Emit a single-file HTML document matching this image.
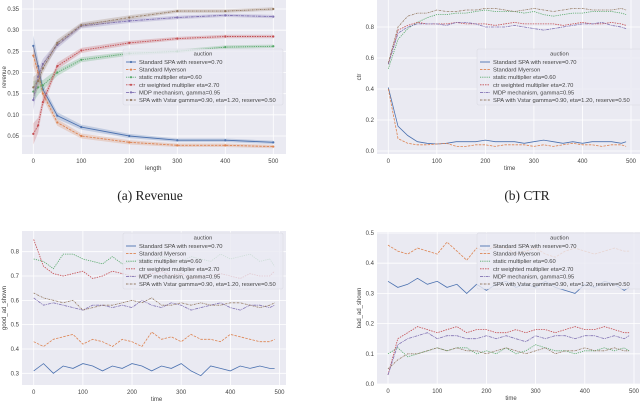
<!DOCTYPE html>
<html><head><meta charset="utf-8"><style>
html,body{margin:0;padding:0;background:#fff;width:640px;height:401px;overflow:hidden}
svg{display:block}
text{font-family:"Liberation Sans",sans-serif}
</style></head><body>
<svg id="fig" width="640" height="401" viewBox="0 0 640 401" xmlns="http://www.w3.org/2000/svg"></svg>
<script>
const COLORS=["#4c72b0","#dd8452","#55a868","#c44e52","#8172b3","#937860"];
const LABELS=["Standard SPA with reserve=0.70","Standard Myerson","static multiplier eta=0.60","ctr weighted multiplier eta=2.70","MDP mechanism, gamma=0.95","SPA with Vstar gamma=0.90, eta=1.20, reserve=0.50"];
const DASHES=["","2.5,1.2","1.2,1","1.5,1","3,0.8,1,0.8","1.8,0.8,0.6,0.8"];

const revLength=[0,10,20,50,100,200,300,400,500];
const revBlue=[0.263,0.215,0.16,0.098,0.071,0.05,0.04,0.04,0.035];
const revOrange=[0.24,0.20,0.15,0.082,0.05,0.035,0.028,0.028,0.025];
const revGreen=[0.155,0.165,0.17,0.20,0.23,0.245,0.25,0.26,0.262];
const revRed=[0.055,0.075,0.13,0.215,0.252,0.27,0.28,0.285,0.285];
const revPurple=[0.135,0.19,0.22,0.265,0.31,0.322,0.33,0.335,0.332];
const revBrown=[0.165,0.18,0.21,0.27,0.312,0.33,0.345,0.345,0.35];
const revTicksY=[0.05,0.10,0.15,0.20,0.25,0.30,0.35];

const times=[0,20,40,60,80,100,120,140,160,180,200,220,240,260,280,300,320,340,360,380,400,420,440,460,480,490];
const ctrBlue=[0.41,0.16,0.10,0.06,0.05,0.045,0.05,0.06,0.06,0.06,0.07,0.06,0.06,0.06,0.05,0.06,0.07,0.06,0.05,0.06,0.05,0.06,0.06,0.06,0.05,0.06];
const ctrOrange=[0.40,0.08,0.05,0.04,0.04,0.045,0.05,0.03,0.03,0.04,0.04,0.03,0.04,0.04,0.04,0.03,0.04,0.03,0.04,0.05,0.04,0.04,0.03,0.04,0.04,0.03];
const ctrGreen=[0.53,0.72,0.79,0.83,0.86,0.88,0.88,0.89,0.89,0.90,0.91,0.90,0.90,0.90,0.89,0.90,0.88,0.87,0.88,0.89,0.89,0.90,0.90,0.90,0.89,0.88];
const ctrRed=[0.56,0.78,0.81,0.83,0.82,0.82,0.82,0.83,0.82,0.82,0.82,0.81,0.82,0.83,0.82,0.82,0.82,0.82,0.81,0.82,0.83,0.82,0.82,0.83,0.82,0.81];
const ctrPurple=[0.56,0.76,0.80,0.82,0.82,0.82,0.81,0.83,0.83,0.82,0.80,0.80,0.80,0.81,0.80,0.79,0.78,0.79,0.80,0.81,0.82,0.82,0.83,0.81,0.80,0.79];
const ctrBrown=[0.57,0.80,0.87,0.89,0.89,0.91,0.90,0.90,0.91,0.91,0.92,0.92,0.91,0.90,0.91,0.92,0.91,0.90,0.91,0.92,0.92,0.91,0.91,0.91,0.92,0.91];
const ctrTicksY=[0.0,0.2,0.4,0.6,0.8];

const goodBlue=[0.31,0.34,0.30,0.33,0.32,0.34,0.33,0.31,0.33,0.32,0.34,0.33,0.31,0.33,0.32,0.34,0.31,0.29,0.33,0.32,0.31,0.33,0.32,0.33,0.32,0.32];
const goodOrange=[0.43,0.41,0.44,0.45,0.46,0.42,0.44,0.43,0.41,0.44,0.43,0.41,0.47,0.44,0.45,0.43,0.46,0.44,0.44,0.43,0.46,0.45,0.44,0.43,0.43,0.44];
const goodGreen=[0.77,0.76,0.73,0.79,0.79,0.77,0.76,0.75,0.78,0.75,0.76,0.77,0.76,0.78,0.77,0.76,0.78,0.77,0.76,0.79,0.77,0.78,0.79,0.76,0.77,0.74];
const goodRed=[0.85,0.74,0.71,0.70,0.71,0.72,0.69,0.70,0.72,0.71,0.70,0.70,0.71,0.72,0.70,0.71,0.69,0.70,0.70,0.71,0.70,0.69,0.71,0.70,0.70,0.72];
const goodPurple=[0.61,0.58,0.59,0.58,0.57,0.56,0.58,0.58,0.57,0.58,0.57,0.60,0.58,0.57,0.59,0.58,0.56,0.57,0.58,0.59,0.57,0.56,0.58,0.58,0.57,0.58];
const goodBrown=[0.63,0.61,0.60,0.59,0.60,0.56,0.57,0.58,0.58,0.59,0.60,0.59,0.61,0.58,0.58,0.59,0.58,0.59,0.58,0.58,0.59,0.59,0.58,0.57,0.58,0.59];
const goodTicksY=[0.3,0.4,0.5,0.6,0.7,0.8];

const badBlue=[0.34,0.32,0.33,0.35,0.33,0.34,0.32,0.33,0.30,0.33,0.31,0.33,0.34,0.32,0.33,0.32,0.34,0.32,0.31,0.30,0.33,0.32,0.34,0.33,0.31,0.32];
const badOrange=[0.46,0.44,0.43,0.45,0.44,0.43,0.47,0.44,0.41,0.45,0.44,0.46,0.45,0.43,0.44,0.45,0.43,0.42,0.44,0.45,0.44,0.43,0.44,0.45,0.44,0.44];
const badGreen=[0.10,0.12,0.09,0.10,0.11,0.12,0.11,0.12,0.12,0.10,0.11,0.10,0.12,0.10,0.11,0.13,0.12,0.11,0.11,0.10,0.11,0.11,0.12,0.11,0.12,0.11];
const badRed=[0.03,0.15,0.17,0.19,0.18,0.17,0.18,0.19,0.17,0.18,0.18,0.17,0.17,0.18,0.17,0.18,0.18,0.17,0.18,0.19,0.18,0.18,0.19,0.18,0.17,0.17];
const badPurple=[0.03,0.13,0.15,0.16,0.17,0.15,0.16,0.16,0.15,0.15,0.16,0.15,0.16,0.15,0.14,0.16,0.15,0.16,0.16,0.15,0.16,0.16,0.15,0.16,0.15,0.16];
const badBrown=[0.05,0.08,0.10,0.10,0.11,0.12,0.11,0.12,0.11,0.11,0.10,0.11,0.12,0.11,0.10,0.11,0.12,0.10,0.11,0.11,0.12,0.11,0.11,0.12,0.11,0.11];
const badTicksY=[0.0,0.1,0.2,0.3,0.4,0.5];
const xTicks=[0,100,200,300,400,500];

const NS="http://www.w3.org/2000/svg";
const svg=document.getElementById('fig');
function mk(tag,attrs,parent){const e=document.createElementNS(NS,tag);for(const k in attrs)e.setAttribute(k,attrs[k]);(parent||svg).appendChild(e);return e;}

function panel(cfg){
  const g=mk('g',{});
  
  
  const sx=v=>cfg.x0+(v-cfg.xd0)/(cfg.xd1-cfg.xd0)*(cfg.x1d-cfg.x0);
  const sy=v=>cfg.y0+(cfg.yd0-v)/(cfg.yd0-cfg.yd1)*(cfg.y1d-cfg.y0);
  const bg=mk('rect',{x:cfg.L,y:cfg.T,width:cfg.R-cfg.L,height:cfg.B-cfg.T,fill:'#eaeaf2'},g);
  
  
  xTicks.forEach(t=>{const x=sx(t);
    mk('line',{x1:x,x2:x,y1:cfg.T,y2:cfg.B,stroke:'#fff','stroke-width':0.8},g);
    const tx=mk('text',{x:x,y:cfg.B+9,'font-size':6,fill:'#444','text-anchor':'middle'},g);tx.textContent=t;
    
    
  });
  cfg.ticksY.forEach(t=>{const y=sy(t);
    mk('line',{x1:cfg.L,x2:cfg.R,y1:y,y2:y,stroke:'#fff','stroke-width':0.8},g);
    const tx=mk('text',{x:cfg.L-3,y:y+2,'font-size':6,fill:'#444','text-anchor':'end'},g);tx.textContent=t.toFixed(cfg.dec);
    
    
  });
  const xl=mk('text',{x:(sx(0)+sx(500))/2,y:cfg.B+16,'font-size':6,fill:'#444','text-anchor':'middle'},g);xl.textContent=cfg.xlabel;
  
  
  const yl=mk('text',{x:0,y:0,'font-size':6,fill:'#444','text-anchor':'middle',transform:`translate(${cfg.L-16},${(cfg.T+cfg.B)/2}) rotate(-90)`},g);yl.textContent=cfg.ylabel;
  
  
  cfg.series.forEach((s,i)=>{
    const pts=s.map((v,j)=>sx(cfg.xs[j]).toFixed(1)+','+sy(v).toFixed(1));
    if(cfg.band){
      const up=s.map((v,j)=>sx(cfg.xs[j]).toFixed(1)+','+sy(v+cfg.band[j]).toFixed(1));
      const dn=s.map((v,j)=>sx(cfg.xs[j]).toFixed(1)+','+sy(v-cfg.band[j]).toFixed(1)).reverse();
      const b=mk('polygon',{points:up.concat(dn).join(' '),fill:COLORS[i],opacity:0.25},g);
      
      
    }
    const l=mk('polyline',{points:pts.join(' '),fill:'none',stroke:COLORS[i],'stroke-width':cfg.band?0.9:0.8,'stroke-dasharray':DASHES[i]},g);
    
    
    if(cfg.band){s.forEach((v,j)=>{const m=mk('circle',{cx:sx(cfg.xs[j]),cy:sy(v),r:1.1,fill:COLORS[i]},g);
      
      });}
  });
  const lg=mk('g',{},g);
  
  
  mk('rect',{x:cfg.lx,y:cfg.ly,width:cfg.lw,height:56,fill:'#eaeaf2','fill-opacity':0.8,stroke:'#d8d8e0','stroke-width':0.5,rx:1.5},lg);
  const lt=mk('text',{x:cfg.lx+cfg.lw/2,y:cfg.ly+6.5,'font-size':5.8,fill:'#444','text-anchor':'middle'},lg);lt.textContent='auction';
  LABELS.forEach((lab,i)=>{const y=cfg.ly+13+i*7.6;
    mk('line',{x1:cfg.lx+3,x2:cfg.lx+13,y1:y,y2:y,stroke:COLORS[i],'stroke-width':0.9,'stroke-dasharray':DASHES[i]},lg);
    if(cfg.band)mk('circle',{cx:cfg.lx+8,cy:y,r:1.1,fill:COLORS[i]},lg);
    const t=mk('text',{x:cfg.lx+16,y:y+2,'font-size':5.8,fill:'#444'},lg);t.textContent=lab;
    
    
  });
}

panel({name:'revenue-chart',L:22,R:286,T:0,B:154,x0:33.3,x1d:273.3,xd0:0,xd1:500,y0:9,y1d:136,yd0:0.35,yd1:0.05,
  ticksY:revTicksY,dec:2,xlabel:'length',ylabel:'revenue',xs:revLength,
  series:[revBlue,revOrange,revGreen,revRed,revPurple,revBrown],band:[0.025,0.018,0.012,0.008,0.006,0.005,0.004,0.004,0.004],
  lx:123,ly:49,lw:160});
panel({name:'ctr-chart',L:377,R:640,T:0,B:154,x0:388.3,x1d:631,xd0:0,xd1:500,y0:27,y1d:151,yd0:0.8,yd1:0.0,
  ticksY:ctrTicksY,dec:1,xlabel:'time',ylabel:'ctr',xs:times,
  series:[ctrBlue,ctrOrange,ctrGreen,ctrRed,ctrPurple,ctrBrown],lx:477,ly:49,lw:165});
panel({name:'good-ad-shown-chart',L:22,R:286,T:231,B:385,x0:33.7,x1d:279.5,xd0:0,xd1:500,y0:251.7,y1d:373.3,yd0:0.8,yd1:0.3,
  ticksY:goodTicksY,dec:1,xlabel:'time',ylabel:'good_ad_shown',xs:times,
  series:[goodBlue,goodOrange,goodGreen,goodRed,goodPurple,goodBrown],lx:123,ly:233,lw:160});
panel({name:'bad-ad-shown-chart',L:377,R:640,T:232,B:384,x0:388,x1d:634,xd0:0,xd1:500,y0:233,y1d:384,yd0:0.5,yd1:0.0,
  ticksY:badTicksY,dec:1,xlabel:'time',ylabel:'bad_ad_shown',xs:times,
  series:[badBlue,badOrange,badGreen,badRed,badPurple,badBrown],lx:477,ly:233,lw:165});
</script>
<svg style="position:absolute;left:0;top:0" width="640" height="401">
<text x="150" y="200" font-size="13.5" text-anchor="middle" fill="#222" style="font-family:'Liberation Serif',serif">(a) Revenue</text>
<text x="527" y="200" font-size="13.5" text-anchor="middle" fill="#222" style="font-family:'Liberation Serif',serif">(b) CTR</text>
</svg>
</body></html>
